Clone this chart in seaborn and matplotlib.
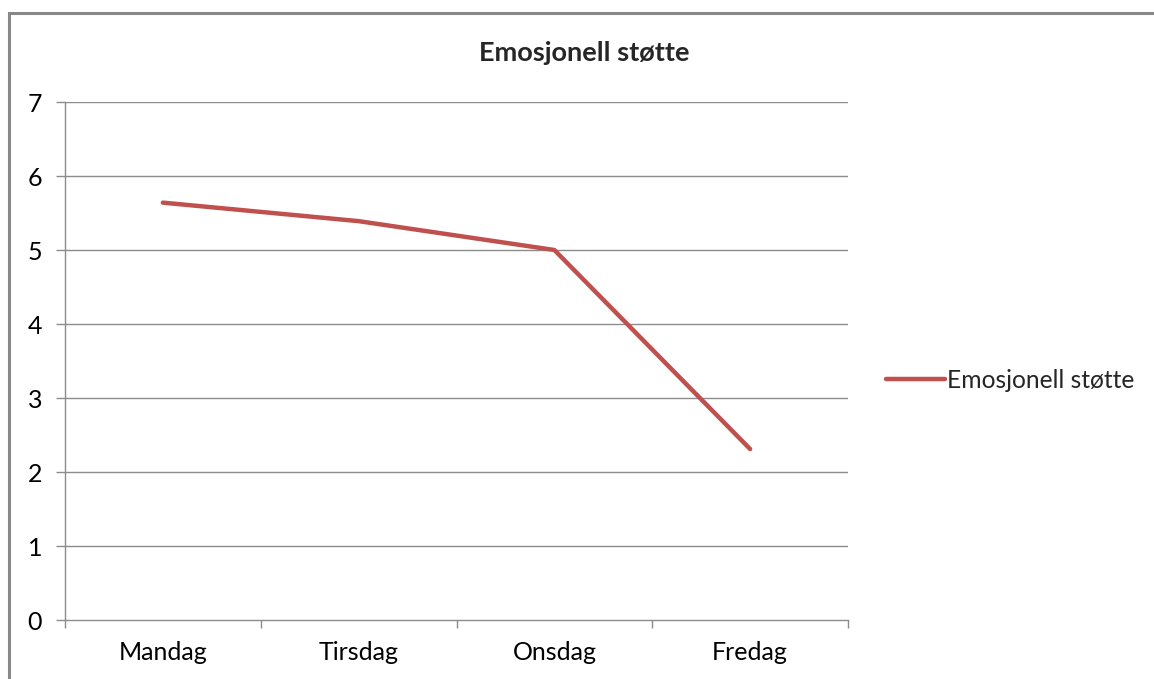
import matplotlib
matplotlib.use("Agg")
import matplotlib.pyplot as plt
import seaborn as sns
import pandas as pd
from matplotlib.patches import Rectangle

days = ["Mandag", "Tirsdag", "Onsdag", "Fredag"]
values = [5.64, 5.39, 5.0, 2.31]
series_name = "Emosjonell støtte"
y_ticks = [0, 1, 2, 3, 4, 5, 6, 7]

sns.set_style("white")
plt.rcParams['font.family'] = ['Lato', 'DejaVu Sans']

W, H = 1154, 679
fig = plt.figure(figsize=(W / 100, H / 100), dpi=100)
ax = fig.add_axes([65 / W, 59 / H, (848 - 65) / W, (620 - 102) / H])

df = pd.DataFrame({"day": days, "value": values, "series": series_name})
sns.lineplot(data=df, x="day", y="value", hue="series", palette=["#C0504D"],
             linewidth=3.2, ax=ax, sort=False)

grid_c = "#8C8C8C"
ax.set_xlim(-0.5, len(days) - 0.5)
ax.set_ylim(0, 7)
ax.set_yticks(y_ticks)
ax.set_yticklabels([str(t) for t in y_ticks])
for t in y_ticks[1:]:
    ax.axhline(t, color=grid_c, linewidth=1.0, zorder=0)
for s in ["top", "right"]:
    ax.spines[s].set_visible(False)
for s in ["left", "bottom"]:
    ax.spines[s].set_color(grid_c)
    ax.spines[s].set_linewidth(1.0)

ax.set_xticks(range(len(days)))
ax.set_xticklabels(days)
ax.set_xticks([i - 0.5 for i in range(len(days) + 1)], minor=True)
ax.tick_params(axis="x", which="major", bottom=True, length=0, pad=15, labelsize=18, colors="black")
ax.tick_params(axis="x", which="minor", bottom=True, length=6, width=1.0, color=grid_c, direction="out")
ax.tick_params(axis="y", which="major", left=True, length=6.5, width=1.0, color=grid_c, direction="out",
               pad=10, labelsize=18, labelcolor="black")
ax.set_xlabel("")
ax.set_ylabel("")

fig.text(584 / W, 1 - 53 / H, series_name, fontsize=19.5, fontweight="bold",
         ha="center", va="center")

leg = ax.legend(loc="center left", bbox_to_anchor=(886 / W, 1 - 380 / H),
                bbox_transform=fig.transFigure, frameon=False, fontsize=17.7,
                handlelength=2.4, handletextpad=0.1, borderpad=0, borderaxespad=0)

fig.patches.append(Rectangle((9 / W, -0.1), 1.2, 1 - 13 / H + 0.1, transform=fig.transFigure,
                             fill=False, edgecolor="#888888", linewidth=2.2))

fig.savefig("out.png", dpi=100, facecolor="white")
